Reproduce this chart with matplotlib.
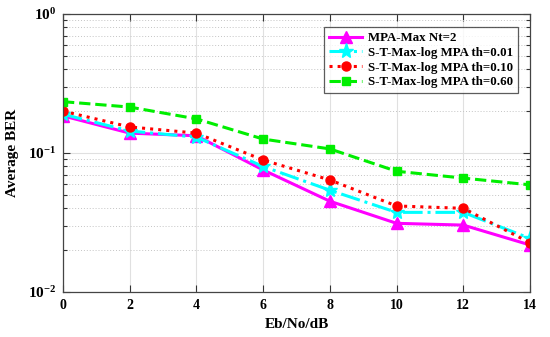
import matplotlib
import matplotlib.pyplot as plt
from matplotlib.ticker import LogLocator, NullFormatter

matplotlib.use("Agg")

# Eb/No (dB) and average BER
ebno = [0, 2, 4, 6, 8, 10, 12, 14]
ber_mpa = [0.185, 0.139, 0.133, 0.0755, 0.045, 0.0312, 0.0303, 0.0218]
ber_th001 = [0.19, 0.144, 0.130, 0.080, 0.054, 0.0374, 0.0374, 0.0243]
ber_th010 = [0.200, 0.154, 0.139, 0.089, 0.064, 0.0416, 0.040, 0.0226]
ber_th060 = [0.234, 0.214, 0.176, 0.126, 0.107, 0.0739, 0.066, 0.059]

labels = [
    "MPA-Max Nt=2",
    "S-T-Max-log MPA th=0.01",
    "S-T-Max-log MPA th=0.10",
    "S-T-Max-log MPA th=0.60",
]

plt.rcParams["font.family"] = ["Liberation Serif", "DejaVu Serif"]
plt.rcParams["font.weight"] = "bold"
plt.rcParams["mathtext.fontset"] = "custom"
plt.rcParams["mathtext.rm"] = "Liberation Serif:bold"
plt.rcParams["mathtext.default"] = "rm"

fig = plt.figure(figsize=(5.5, 3.37), dpi=100)
ax = fig.add_axes([0.1145, 0.1335, 0.8491, 0.825])

ax.semilogy(ebno, ber_mpa, color="#ff00ff", linestyle="-", linewidth=2.2,
            marker="^", markersize=8, label=labels[0])
ax.semilogy(ebno, ber_th001, color="#00ffff", linestyle="-.", linewidth=2.2,
            marker="*", markersize=11, label=labels[1])
ax.semilogy(ebno, ber_th010, color="#ff0000", linestyle=":", linewidth=2.2,
            marker="o", markersize=6.5, label=labels[2])
ax.semilogy(ebno, ber_th060, color="#00ee00", linestyle="--", linewidth=2.2,
            marker="s", markersize=6, markerfacecolor="#00ee00", label=labels[3])

ax.set_xlim(0, 14)
ax.set_ylim(1e-2, 1)
ax.set_xticks(ebno)
ax.yaxis.set_major_locator(LogLocator(base=10, numticks=5))
ax.yaxis.set_minor_locator(LogLocator(base=10, subs=range(2, 10), numticks=20))
ax.yaxis.set_minor_formatter(NullFormatter())

ax.grid(True, which="major", color="#e0e0e0", linewidth=0.8, linestyle="-")
ax.grid(True, which="minor", axis="y", color="#c4c4c4", linewidth=0.7,
        linestyle=(0, (1, 2)))
ax.set_axisbelow(True)

ax.tick_params(which="both", direction="in", top=True, right=True,
               labelsize=10, width=0.8, color="#333333")
ax.tick_params(axis="y", labelsize=11, pad=5)
ax.tick_params(axis="x", pad=5)
ax.tick_params(which="major", length=5)
ax.tick_params(which="minor", length=3)
for s in ax.spines.values():
    s.set_color("#444444")
    s.set_linewidth(0.9)

ax.set_xlabel("Eb/No/dB", fontsize=11, fontweight="bold")
ax.set_ylabel("Average BER", fontsize=11, fontweight="bold", labelpad=6)

leg = ax.legend(loc="upper right", bbox_to_anchor=(0.974, 0.953),
                borderaxespad=0, fontsize=9.3, frameon=True, fancybox=False,
                handlelength=2.6, labelspacing=0.2, borderpad=0.4,
                handletextpad=0.4)
leg.get_frame().set_edgecolor("#333333")
leg.get_frame().set_linewidth(0.9)

fig.savefig("out.png", dpi=100)
